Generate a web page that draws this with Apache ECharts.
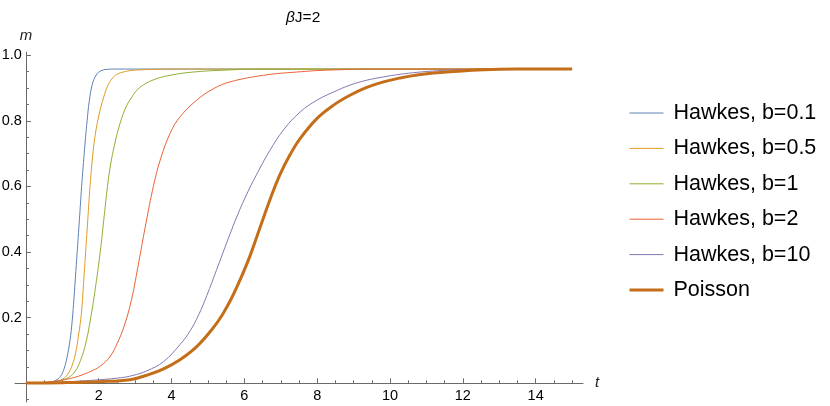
<!DOCTYPE html>
<html>
<head>
<meta charset="utf-8">
<title>βJ=2</title>
<script src="https://cdn.jsdelivr.net/npm/echarts@6/dist/echarts.min.js"></script>
<style>
    html, body { margin: 0; padding: 0; background: #fff; }
    #chartDiv { width: 830px; height: 406px; }
</style>
</head>
<body>
<div id="chartDiv"></div>
<script>
// curve readings [t, m]
var hawkes01 = [
    [0, 0.001], [0.5, 0.002], [0.7, 0.004], [0.85, 0.011], [0.95, 0.021], [1.05, 0.045],
    [1.13, 0.08], [1.21, 0.13], [1.27, 0.19], [1.32, 0.26], [1.37, 0.34], [1.42, 0.42],
    [1.47, 0.5], [1.53, 0.6], [1.6, 0.7], [1.68, 0.8], [1.74, 0.86], [1.82, 0.91],
    [1.93, 0.94], [2.05, 0.952], [2.22, 0.957], [2.5, 0.958], [15, 0.958]
];
var hawkes05 = [
    [0, 0.001], [0.5, 0.002], [0.8, 0.005], [1.0, 0.012], [1.15, 0.028], [1.27, 0.055],
    [1.37, 0.095], [1.45, 0.15], [1.52, 0.21], [1.58, 0.3], [1.64, 0.4], [1.7, 0.5],
    [1.76, 0.6], [1.83, 0.69], [1.9, 0.755], [2.0, 0.815], [2.13, 0.87], [2.26, 0.91],
    [2.4, 0.933], [2.54, 0.944], [2.8, 0.952], [3.04, 0.955], [3.5, 0.957], [4, 0.958], [15, 0.958]
];
var hawkes1 = [
    [0, 0.001], [0.6, 0.003], [1.0, 0.01], [1.2, 0.02], [1.35, 0.036], [1.5, 0.07],
    [1.65, 0.125], [1.78, 0.2], [1.92, 0.3], [2.04, 0.4], [2.14, 0.5], [2.24, 0.6],
    [2.33, 0.67], [2.43, 0.725], [2.54, 0.775], [2.72, 0.835], [2.91, 0.873], [3.13, 0.902],
    [3.5, 0.925], [3.96, 0.939], [4.6, 0.949], [5.52, 0.955], [6.43, 0.958], [15, 0.958]
];
var hawkes2 = [
    [0, 0.001], [0.6, 0.004], [1.0, 0.01], [1.3, 0.017], [1.6, 0.028], [1.85, 0.04],
    [2.05, 0.053], [2.3, 0.08], [2.5, 0.12], [2.7, 0.175], [2.9, 0.255], [3.1, 0.37],
    [3.3, 0.49], [3.5, 0.6], [3.7, 0.685], [3.96, 0.762], [4.23, 0.812], [4.69, 0.863],
    [5.15, 0.898], [5.61, 0.919], [6.52, 0.939], [7.44, 0.949], [8.35, 0.955], [9.8, 0.958], [15, 0.958]
];
var hawkes10 = [
    [0, 0.001], [1, 0.004], [2.03, 0.011], [2.6, 0.017], [2.94, 0.024], [3.32, 0.038],
    [3.78, 0.066], [4.23, 0.118], [4.5, 0.158], [4.75, 0.21], [4.97, 0.268], [5.24, 0.347],
    [5.52, 0.43], [5.8, 0.51], [6.1, 0.585], [6.4, 0.65], [6.7, 0.71], [7.07, 0.772],
    [7.53, 0.827], [7.99, 0.863], [8.45, 0.888], [8.9, 0.909], [9.36, 0.924], [9.82, 0.934],
    [10.28, 0.942], [10.74, 0.948], [11.19, 0.952], [11.65, 0.955], [12.5, 0.957], [13.5, 0.958], [15, 0.958]
];
var poisson = [
    [0, 0.001], [1, 0.002], [2, 0.005], [2.86, 0.011], [3.41, 0.028], [3.78, 0.044],
    [4.23, 0.072], [4.69, 0.112], [5.15, 0.17], [5.4, 0.21], [5.65, 0.26], [5.9, 0.32],
    [6.16, 0.39], [6.43, 0.475], [6.71, 0.562], [6.98, 0.637], [7.26, 0.698], [7.53, 0.746],
    [7.99, 0.807], [8.45, 0.848], [8.9, 0.878], [9.36, 0.902], [9.82, 0.919], [10.28, 0.931],
    [10.74, 0.94], [11.19, 0.946], [11.65, 0.95], [12.57, 0.956], [13.48, 0.958], [15, 0.958]
];

var seriesNames = ['Hawkes, b=0.1', 'Hawkes, b=0.5', 'Hawkes, b=1', 'Hawkes, b=2', 'Hawkes, b=10', 'Poisson'];
var seriesData = [hawkes01, hawkes05, hawkes1, hawkes2, hawkes10, poisson];

// ticks
var xMajorTicks = [0, 2, 4, 6, 8, 10, 12, 14];
var xLabels = [2, 4, 6, 8, 10, 12, 14];
var xMinorTicks = [0.5, 1, 1.5, 2.5, 3, 3.5, 4.5, 5, 5.5, 6.5, 7, 7.5, 8.5, 9, 9.5,
    10.5, 11, 11.5, 12.5, 13, 13.5, 14.5, 15];
var yMajorTicks = [0, 0.2, 0.4, 0.6, 0.8, 1.0];
var yLabels = [0.2, 0.4, 0.6, 0.8, 1.0];
var yMinorTicks = [-0.05, 0.05, 0.1, 0.15, 0.25, 0.3, 0.35, 0.45, 0.5, 0.55,
    0.65, 0.7, 0.75, 0.85, 0.9, 0.95];

var colorList = ['#5e81b5', '#e19c24', '#8fb032', '#eb6235', '#8778b3', '#c56e1a'];
var lineWidths = [1, 1, 1, 1, 1, 3];
var fontName = '"Liberation Sans", Arial, sans-serif';
var axisColor = '#6a6a6a';

// plot area, axes cross at the origin inside it
var gridLeft = 15, gridRight = 247, gridTop = 52, gridBottom = 4;
var xMin = -0.3, xMax = 15.3, yMin = -0.057, yMax = 1.01;
var plotW = 830 - gridLeft - gridRight, plotH = 406 - gridTop - gridBottom;
var yAxisShift = -(0 - xMin) / (xMax - xMin) * plotW;
var xAxisShift = -(0 - yMin) / (yMax - yMin) * plotH;

function makeXAxis(ticks, len, withLabels) {
    return {
        type: 'value',
        position: 'bottom',
        offset: xAxisShift,
        min: xMin,
        max: xMax,
        name: withLabels ? 't' : '',
        nameLocation: 'end',
        nameGap: 12,
        nameTextStyle: { fontFamily: fontName, fontStyle: 'italic', fontSize: 15, color: '#222' },
        axisLine: { show: withLabels, onZero: false, lineStyle: { color: axisColor, width: 1 } },
        axisTick: { show: true, inside: true, length: len, customValues: ticks, lineStyle: { color: axisColor } },
        axisLabel: {
            show: withLabels, customValues: xLabels, margin: 5,
            fontFamily: fontName, fontSize: 14.5, color: '#000'
        },
        splitLine: { show: false }
    };
}

function makeYAxis(ticks, len, withLabels) {
    return {
        type: 'value',
        position: 'left',
        offset: yAxisShift,
        min: yMin,
        max: yMax,
        name: withLabels ? 'm' : '',
        nameLocation: 'end',
        nameGap: 9,
        nameTextStyle: { fontFamily: fontName, fontStyle: 'italic', fontSize: 15, color: '#222' },
        axisLine: { show: withLabels, onZero: false, lineStyle: { color: axisColor, width: 1 } },
        axisTick: { show: true, inside: true, length: len, customValues: ticks, lineStyle: { color: axisColor } },
        axisLabel: {
            show: withLabels, customValues: yLabels, margin: 4,
            fontFamily: fontName, fontSize: 14.5, color: '#000',
            formatter: function (v) { return v.toFixed(1); }
        },
        splitLine: { show: false }
    };
}

var series = [];
var legendData = [];
for (var i = 0; i < seriesNames.length; i++) {
    series.push({
        name: seriesNames[i],
        type: 'line',
        data: seriesData[i],
        smooth: 0.4,
        symbol: 'none',
        showSymbol: false,
        z: i === 5 ? 3 : 2,
        lineStyle: { color: colorList[i], width: lineWidths[i] },
        itemStyle: { color: colorList[i] }
    });
    legendData.push({
        name: seriesNames[i],
        lineStyle: { width: lineWidths[i] },
        itemStyle: { opacity: 0, color: 'rgba(0,0,0,0)', borderWidth: 0 }
    });
}

var option = {
    animation: false,
    backgroundColor: '#fff',
    color: colorList,
    title: {
        text: '{b|β}J=2',
        left: 281,
        top: 5,
        textStyle: {
            fontFamily: fontName, fontSize: 15.5, fontWeight: 'normal', color: '#000',
            rich: { b: { fontFamily: fontName, fontSize: 15.5, fontStyle: 'italic', color: '#000' } }
        }
    },
    legend: {
        orient: 'vertical',
        left: 623,
        top: 97,
        itemWidth: 34,
        itemHeight: 14,
        itemGap: 13.4,
        data: legendData,
        textStyle: { fontFamily: fontName, fontSize: 21.5, color: '#000', padding: [0, 0, 0, 5] }
    },
    grid: {
        left: gridLeft,
        right: gridRight,
        top: gridTop,
        bottom: gridBottom,
        containLabel: false,
        outerBoundsMode: 'none'
    },
    xAxis: [makeXAxis(xMajorTicks, 5, true), makeXAxis(xMinorTicks, 3, false)],
    yAxis: [makeYAxis(yMajorTicks, 5, true), makeYAxis(yMinorTicks, 3, false)],
    series: series
};

var chart = echarts.init(document.getElementById('chartDiv'));
chart.setOption(option);
</script>
</body>
</html>
